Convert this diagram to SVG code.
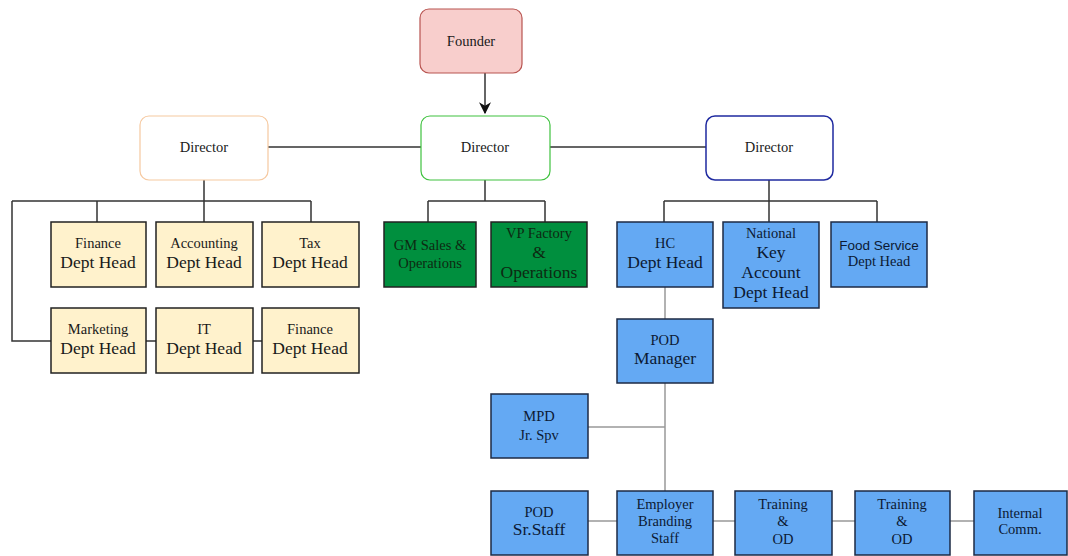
<svg xmlns="http://www.w3.org/2000/svg" width="1068" height="556" viewBox="0 0 1068 556">
<defs>
<style>
.t{font-family:"Liberation Serif","Times New Roman",serif;fill:#1a1a1a;text-anchor:middle}
.s{font-size:14.5px}
.l{font-size:17.5px}
.sans{font-family:"Liberation Sans",Arial,sans-serif;font-size:13.5px}
.yel{fill:#fff2cc;stroke:#222;stroke-width:1.5}
.grn{fill:#008f3e;stroke:#222;stroke-width:1.5}
.blu{fill:#64a9f3;stroke:#1c2a44;stroke-width:1.5}
.c{fill:none;stroke:#333;stroke-width:1.5}
.g{fill:none;stroke:#999;stroke-width:1.5}
.gt{fill:#0d2a12}
.bt{fill:#0c1a33}
</style>
<marker id="arr" viewBox="0 0 10 10" refX="9" refY="5" markerWidth="8" markerHeight="8" orient="auto"><path d="M0,0 L10,5 L0,10 L3,5 z" fill="#111"/></marker>
</defs>
<rect width="1068" height="556" fill="#fff"/>
<g id="connectors">
<path class="c" d="M485,73 V113" marker-end="url(#arr)"/>
<path class="c" d="M268,147 H421 M550,147 H706"/>
<path class="c" d="M204,180 V201 M12,201 H311 M97,201 V222 M204,201 V222 M311,201 V222 M12,201 V341 H51 M146,341 H156 M253,341 H262"/>
<path class="c" d="M485,180 V201 M428,201 H545 M428,201 V222 M545,201 V222"/>
<path class="c" d="M769,180 V222 M664,201 H877 M664,201 V222 M877,201 V222"/>
<path class="g" d="M665,287 V319 M665,383 V491 M588,427 H665 M588,521 H617 M713,521 H735 M832,521 H855 M950,521 H974"/>
</g>
<g id="founder"><rect x="420" y="9" width="102" height="64" rx="9" fill="#f8cecc" stroke="#b85450" stroke-width="1.2"/><text class="t s" x="471" y="46">Founder</text></g>
<g id="director-left"><rect x="140" y="116" width="128" height="64" rx="9" fill="#fff" stroke="#f6c9a0" stroke-width="1.2"/><text class="t s" x="204" y="152">Director</text></g>
<g id="director-mid"><rect x="421" y="116" width="129" height="64" rx="9" fill="#fff" stroke="#3fc23f" stroke-width="1.2"/><text class="t s" x="485" y="152">Director</text></g>
<g id="director-right"><rect x="706" y="116" width="127" height="64" rx="9" fill="#fff" stroke="#1f2aa0" stroke-width="1.5"/><text class="t s" x="769" y="152">Director</text></g>
<g id="finance1"><rect class="yel" x="51" y="222" width="95" height="65"/><text class="t s" x="98" y="248">Finance</text><text class="t l" x="98" y="268">Dept Head</text></g>
<g id="accounting"><rect class="yel" x="156" y="222" width="97" height="65"/><text class="t s" x="204" y="248">Accounting</text><text class="t l" x="204" y="268">Dept Head</text></g>
<g id="tax"><rect class="yel" x="262" y="222" width="97" height="65"/><text class="t s" x="310" y="248">Tax</text><text class="t l" x="310" y="268">Dept Head</text></g>
<g id="marketing"><rect class="yel" x="51" y="308" width="95" height="65"/><text class="t s" x="98" y="334">Marketing</text><text class="t l" x="98" y="354">Dept Head</text></g>
<g id="it"><rect class="yel" x="156" y="308" width="97" height="65"/><text class="t s" x="204" y="334">IT</text><text class="t l" x="204" y="354">Dept Head</text></g>
<g id="finance2"><rect class="yel" x="262" y="308" width="97" height="65"/><text class="t s" x="310" y="334">Finance</text><text class="t l" x="310" y="354">Dept Head</text></g>
<g id="gm-sales"><rect class="grn" x="384" y="222" width="92" height="65"/><text class="t s gt" x="430" y="250">GM Sales &amp;</text><text class="t s gt" x="430" y="268">Operations</text></g>
<g id="vp-factory"><rect class="grn" x="491" y="222" width="96" height="65"/><text class="t s gt" x="539" y="238">VP Factory</text><text class="t l gt" x="539" y="258">&amp;</text><text class="t l gt" x="539" y="278">Operations</text></g>
<g id="hc"><rect class="blu" x="617" y="222" width="96" height="65"/><text class="t s bt" x="665" y="248">HC</text><text class="t l bt" x="665" y="268">Dept Head</text></g>
<g id="national-key"><rect class="blu" x="723" y="222" width="96" height="86"/><text class="t s bt" x="771" y="238">National</text><text class="t l bt" x="771" y="258">Key</text><text class="t l bt" x="771" y="278">Account</text><text class="t l bt" x="771" y="298">Dept Head</text></g>
<g id="food-service"><rect class="blu" x="831" y="222" width="96" height="65"/><text class="t sans bt" x="879" y="250">Food Service</text><text class="t s bt" x="879" y="266">Dept Head</text></g>
<g id="pod-manager"><rect class="blu" x="617" y="319" width="96" height="64"/><text class="t s bt" x="665" y="345">POD</text><text class="t l bt" x="665" y="364">Manager</text></g>
<g id="mpd"><rect class="blu" x="491" y="394" width="97" height="64"/><text class="t s bt" x="539" y="421">MPD</text><text class="t s bt" x="539" y="440">Jr. Spv</text></g>
<g id="pod-sr"><rect class="blu" x="491" y="491" width="97" height="64"/><text class="t s bt" x="539" y="517">POD</text><text class="t l bt" x="539" y="535">Sr.Staff</text></g>
<g id="employer-branding"><rect class="blu" x="617" y="491" width="96" height="64"/><text class="t s bt" x="665" y="509">Employer</text><text class="t s bt" x="665" y="526">Branding</text><text class="t s bt" x="665" y="543">Staff</text></g>
<g id="training1"><rect class="blu" x="735" y="491" width="97" height="64"/><text class="t s bt" x="783" y="509">Training</text><text class="t s bt" x="783" y="526">&amp;</text><text class="t s bt" x="783" y="544">OD</text></g>
<g id="training2"><rect class="blu" x="855" y="491" width="95" height="64"/><text class="t s bt" x="902" y="509">Training</text><text class="t s bt" x="902" y="526">&amp;</text><text class="t s bt" x="902" y="544">OD</text></g>
<g id="internal-comm"><rect class="blu" x="974" y="491" width="93" height="64"/><text class="t s bt" x="1020" y="518">Internal</text><text class="t s bt" x="1020" y="534">Comm.</text></g>
</svg>
